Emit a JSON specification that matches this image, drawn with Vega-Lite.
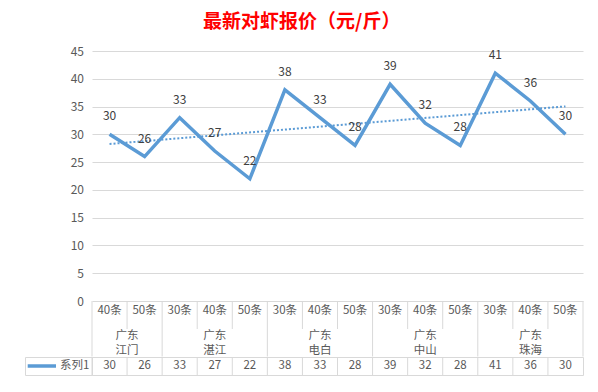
{
  "$schema": "https://vega.github.io/schema/vega-lite/v6.json",
  "background": "white",
  "padding": {"left": 24, "top": 13, "right": 15, "bottom": 5},
  "config": {"font": "Noto Sans CJK SC", "view": {"stroke": null}},
  "title": {"text": "最新对虾报价（元/斤）", "color": "#ff0000", "fontSize": 19, "fontWeight": "bold", "font": "Noto Sans CJK SC", "anchor": "middle", "frame": "bounds", "offset": 13, "dx": -2},
  "datasets": {
    "shrimp": [
      {"i": 1, "key": "江门40条", "group": "广东\n江门", "size": "40条", "price": 30, "series": "系列1"},
      {"i": 2, "key": "江门50条", "group": "广东\n江门", "size": "50条", "price": 26, "series": "系列1"},
      {"i": 3, "key": "湛江30条", "group": "广东\n湛江", "size": "30条", "price": 33, "series": "系列1"},
      {"i": 4, "key": "湛江40条", "group": "广东\n湛江", "size": "40条", "price": 27, "series": "系列1"},
      {"i": 5, "key": "湛江50条", "group": "广东\n湛江", "size": "50条", "price": 22, "series": "系列1"},
      {"i": 6, "key": "电白30条", "group": "广东\n电白", "size": "30条", "price": 38, "series": "系列1"},
      {"i": 7, "key": "电白40条", "group": "广东\n电白", "size": "40条", "price": 33, "series": "系列1"},
      {"i": 8, "key": "电白50条", "group": "广东\n电白", "size": "50条", "price": 28, "series": "系列1"},
      {"i": 9, "key": "中山30条", "group": "广东\n中山", "size": "30条", "price": 39, "series": "系列1"},
      {"i": 10, "key": "中山40条", "group": "广东\n中山", "size": "40条", "price": 32, "series": "系列1"},
      {"i": 11, "key": "中山50条", "group": "广东\n中山", "size": "50条", "price": 28, "series": "系列1"},
      {"i": 12, "key": "珠海30条", "group": "广东\n珠海", "size": "30条", "price": 41, "series": "系列1"},
      {"i": 13, "key": "珠海40条", "group": "广东\n珠海", "size": "40条", "price": 36, "series": "系列1"},
      {"i": 14, "key": "珠海50条", "group": "广东\n珠海", "size": "50条", "price": 30, "series": "系列1"}
    ]
  },
  "bounds": "flush",
  "spacing": 0,
  "resolve": {"scale": {"x": "independent", "y": "independent", "color": "independent"}, "legend": {"color": "independent"}},
  "vconcat": [
    {
      "width": 491,
      "height": 250,
      "data": {"name": "shrimp"},
      "encoding": {
        "x": {"field": "i", "type": "quantitative", "scale": {"domain": [0.5, 14.5], "nice": false, "zero": false}, "axis": null},
        "y": {"field": "price", "type": "quantitative", "scale": {"domain": [0, 45], "nice": false},
          "axis": {"values": [0, 5, 10, 15, 20, 25, 30, 35, 40, 45], "grid": true, "gridColor": "#d9d9d9", "gridWidth": 1, "domain": false, "ticks": false, "labelPadding": 8.5, "labelFontSize": 12, "labelColor": "#595959", "title": null}}
      },
      "layer": [
        {"mark": {"type": "line", "color": "#5b9bd5", "strokeWidth": 3.5}},
        {"transform": [{"regression": "price", "on": "i", "extent": [1, 14]}],
         "mark": {"type": "line", "color": "#5b9bd5", "strokeWidth": 2, "strokeDash": [2, 2]}},
        {"mark": {"type": "text", "dy": -18, "fontSize": 12, "color": "#404040"},
         "encoding": {"text": {"field": "price", "type": "quantitative"}}}
      ]
    },
    {
      "width": 491,
      "height": 28,
      "data": {"name": "shrimp"},
      "layer": [
        {"mark": {"type": "rule", "color": "#d9d9d9", "strokeWidth": 1},
         "encoding": {"x": {"field": "key", "type": "nominal", "bandPosition": 0, "axis": null,
           "scale": {"type": "band", "paddingInner": 0, "paddingOuter": 0, "domain": ["江门40条","江门50条","湛江30条","湛江40条","湛江50条","电白30条","电白40条","电白50条","中山30条","中山40条","中山50条","珠海30条","珠海40条","珠海50条"]}}}},
        {"transform": [{"filter": "datum.i == 14"}],
         "mark": {"type": "rule", "color": "#d9d9d9", "strokeWidth": 1},
         "encoding": {"x": {"field": "key", "type": "nominal", "bandPosition": 1, "axis": null}}},
        {"mark": {"type": "text", "fontSize": 11.5, "color": "#595959", "dy": -4},
         "encoding": {"x": {"field": "key", "type": "nominal", "axis": null}, "text": {"field": "size", "type": "nominal"}}}
      ]
    },
    {
      "width": 491,
      "height": 27.5,
      "data": {"name": "shrimp"},
      "resolve": {"scale": {"x": "independent"}},
      "layer": [
        {"transform": [{"window": [{"op": "row_number", "as": "rn"}], "groupby": ["group"], "sort": [{"field": "i"}]}, {"filter": "datum.rn == 1"}],
         "mark": {"type": "rule", "color": "#d9d9d9", "strokeWidth": 1},
         "encoding": {"x": {"field": "key", "type": "nominal", "bandPosition": 0, "axis": null,
           "scale": {"type": "band", "paddingInner": 0, "paddingOuter": 0, "domain": ["江门40条","江门50条","湛江30条","湛江40条","湛江50条","电白30条","电白40条","电白50条","中山30条","中山40条","中山50条","珠海30条","珠海40条","珠海50条"]}}}},
        {"transform": [{"filter": "datum.i == 14"}],
         "mark": {"type": "rule", "color": "#d9d9d9", "strokeWidth": 1},
         "encoding": {"x": {"field": "key", "type": "nominal", "bandPosition": 1, "axis": null,
           "scale": {"type": "band", "paddingInner": 0, "paddingOuter": 0, "domain": ["江门40条","江门50条","湛江30条","湛江40条","湛江50条","电白30条","电白40条","电白50条","中山30条","中山40条","中山50条","珠海30条","珠海40条","珠海50条"]}}}},
        {"mark": {"type": "text", "fontSize": 11.5, "color": "#595959", "lineBreak": "\n", "lineHeight": 15, "dy": -6.5},
         "encoding": {"x": {"aggregate": "mean", "field": "i", "type": "quantitative", "axis": null, "scale": {"domain": [0.5, 14.5], "nice": false, "zero": false}},
           "text": {"field": "group", "type": "nominal"}}}
      ]
    },
    {
      "width": 491,
      "height": 18,
      "data": {"name": "shrimp"},
      "view": {"stroke": "#d9d9d9", "strokeWidth": 1},
      "encoding": {"x": {"field": "key", "type": "nominal", "axis": null,
        "scale": {"type": "band", "paddingInner": 0, "paddingOuter": 0, "domain": ["江门40条","江门50条","湛江30条","湛江40条","湛江50条","电白30条","电白40条","电白50条","中山30条","中山40条","中山50条","珠海30条","珠海40条","珠海50条"]}}},
      "layer": [
        {"mark": {"type": "rule", "color": "#d9d9d9", "strokeWidth": 1},
         "encoding": {"x": {"field": "key", "type": "nominal", "bandPosition": 0, "axis": null}}},
        {"mark": {"type": "text", "fontSize": 11.5, "color": "#595959"},
         "encoding": {"text": {"field": "price", "type": "quantitative"}}},
        {"transform": [{"filter": "datum.i < 0"}],
         "mark": {"type": "line", "strokeWidth": 3.5},
         "encoding": {"color": {"field": "series", "type": "nominal",
           "scale": {"domain": ["系列1"], "range": ["#5b9bd5"]},
           "legend": {"orient": "left", "offset": 0, "padding": 2, "strokeColor": "#d9d9d9", "title": null,
             "symbolType": "M-1.26,0H4.4", "symbolSize": 100, "symbolStrokeWidth": 3.5, "symbolOpacity": 1,
             "labelFontSize": 11.5, "labelColor": "#595959", "labelOffset": 19}}}}
      ]
    }
  ]
}
